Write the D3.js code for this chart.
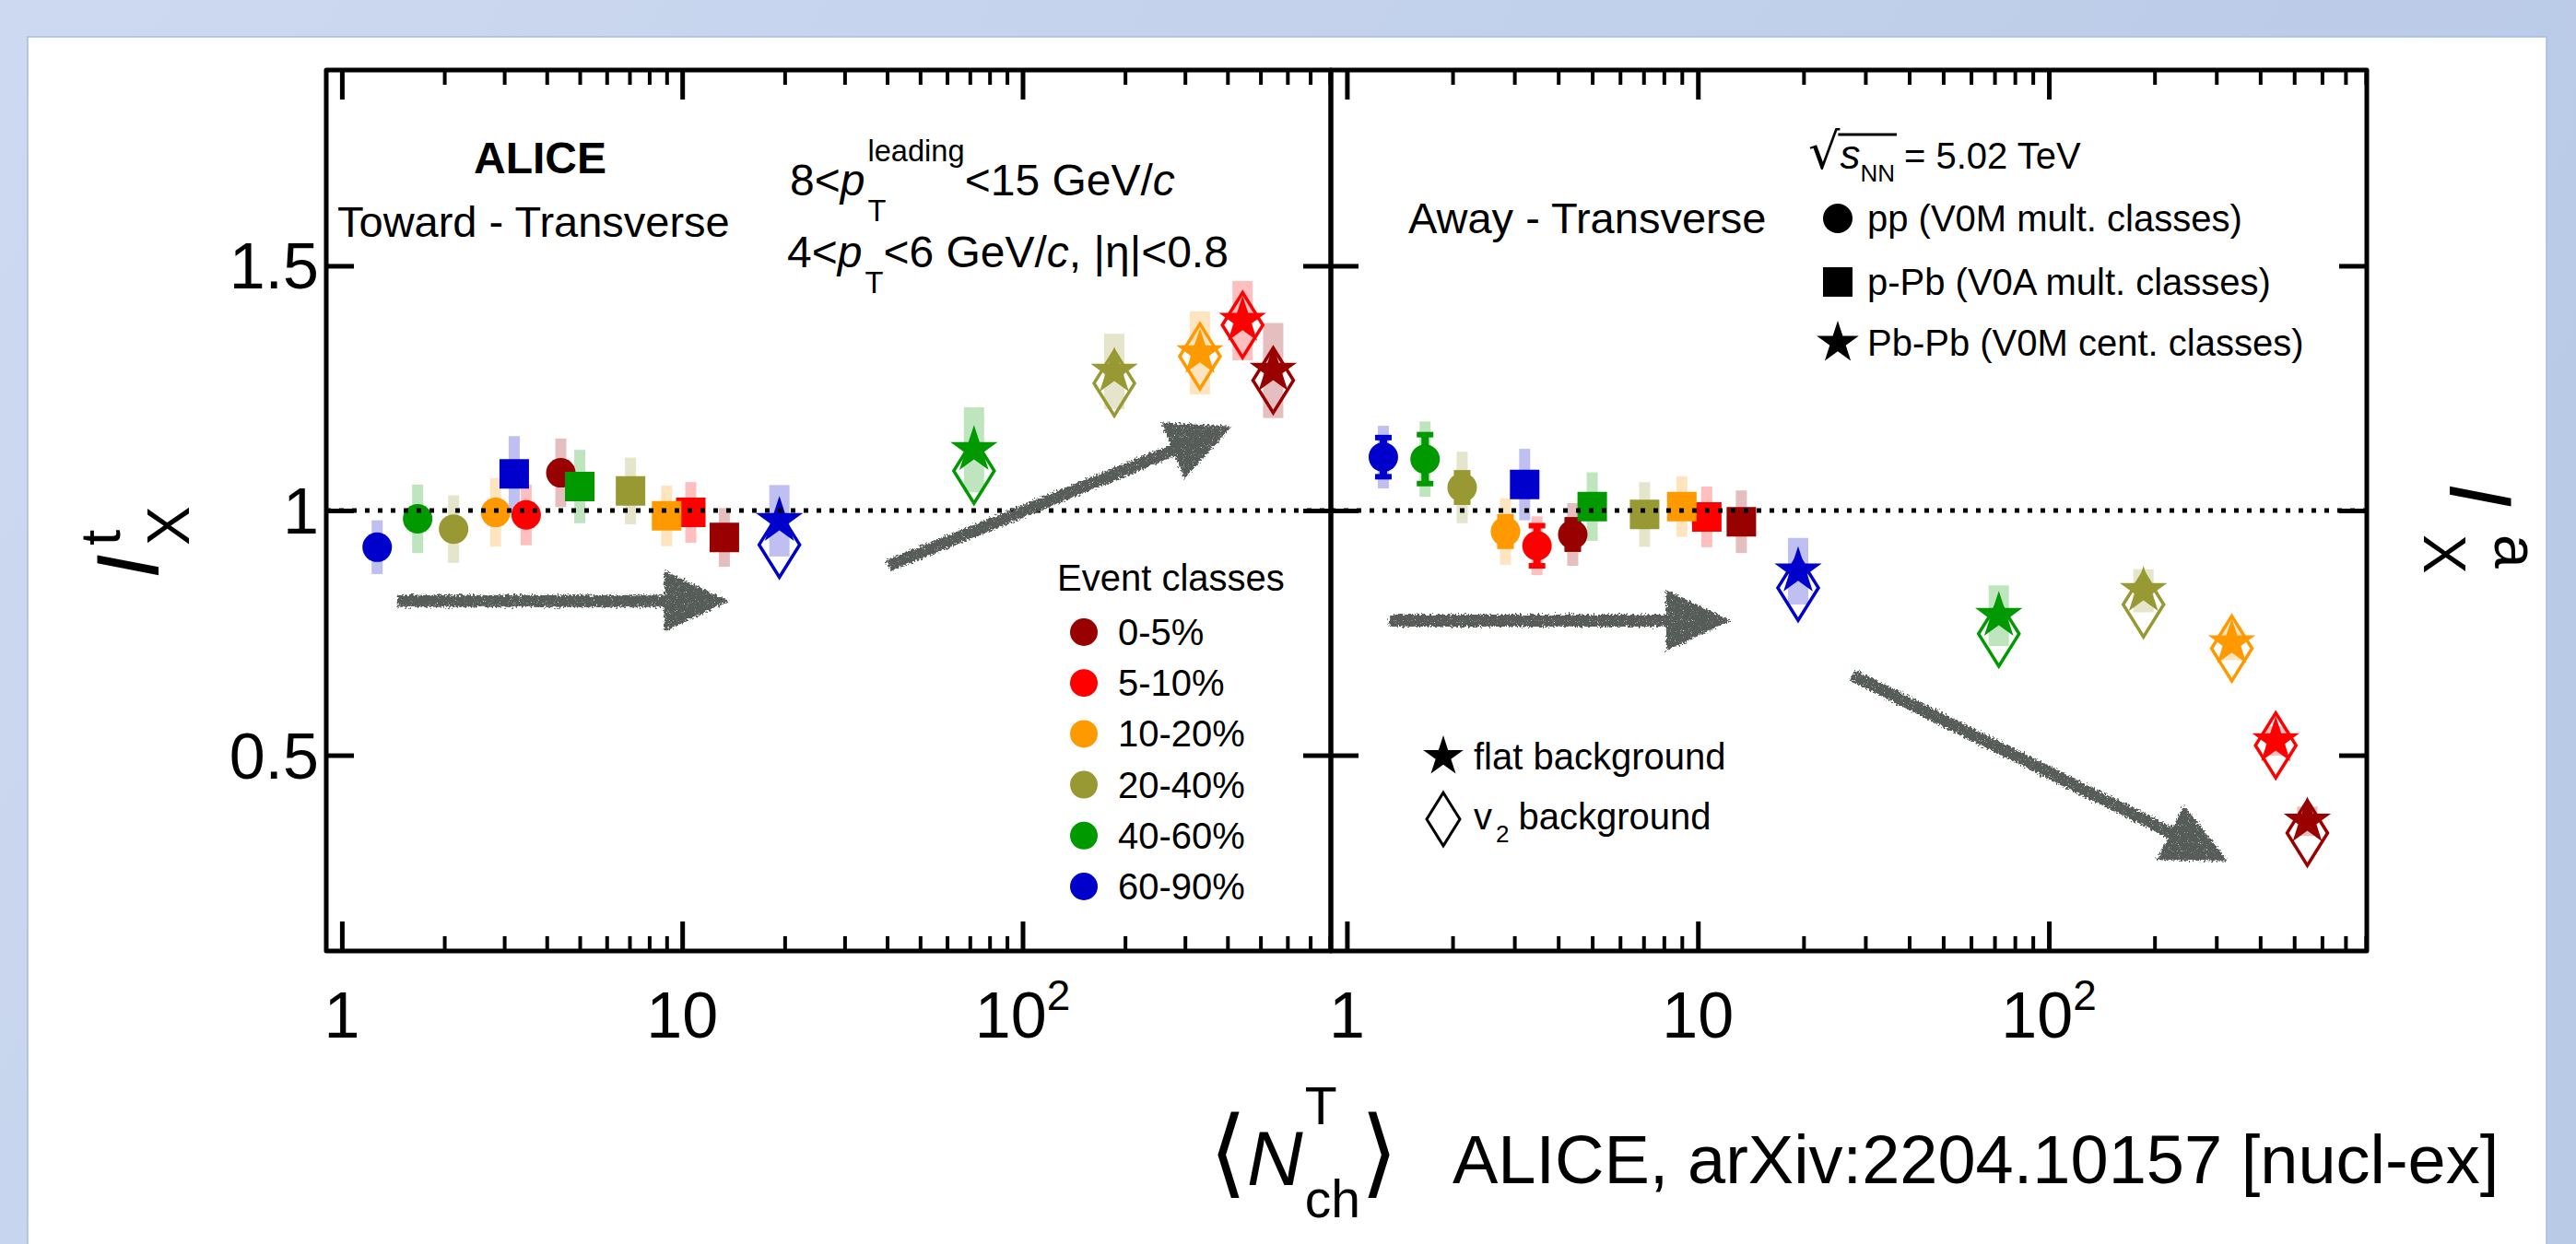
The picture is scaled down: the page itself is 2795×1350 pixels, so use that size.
<!DOCTYPE html>
<head>
<meta charset="utf-8">
<script src="https://d3js.org/d3.v7.min.js"></script>
<style>
  body { margin: 0; }
  text { font-family: "Liberation Sans", Arial, Helvetica, sans-serif; fill: #000; white-space: pre; }
</style>
</head>
<body>
<div id="container"></div>
<script>
// ---- data ----
var eventClasses = ["0-5%", "5-10%", "10-20%", "20-40%", "40-60%", "60-90%"];
var classColors  = ["#990000", "#ff0000", "#ff9900", "#999933", "#009900", "#0000cc"];

// <N_ch^T> per event class
var nchPP   = [4.40, 3.48, 2.83, 2.13, 1.67, 1.27];
var nchPPb  = [13.3, 10.6, 9.0, 7.05, 5.0, 3.21];
var nchPbPb = [545, 443, 332, 186, 72, 19.3];

// Toward - Transverse (I^t_X)
var towardPP       = [1.077, 0.991, 0.996, 0.962, 0.983, 0.925];
var towardPPStat   = [0.020, 0.020, 0.020, 0.020, 0.020, 0.020];
var towardPPSys    = [0.070, 0.062, 0.070, 0.069, 0.070, 0.055];
var towardPPb      = [0.945, 0.996, 0.989, 1.040, 1.049, 1.075];
var towardPPbSys   = [0.060, 0.062, 0.062, 0.068, 0.075, 0.077];
var towardPbPb     = [1.286, 1.388, 1.322, 1.284, 1.124, 0.979];
var towardPbPbV2   = [1.266, 1.379, 1.315, 1.260, 1.081, 0.930];
var towardPbPbSys  = [0.097, 0.081, 0.085, 0.077, 0.087, 0.073];

// Away - Transverse (I^a_X)
var awayPP       = [0.951, 0.928, 0.957, 1.047, 1.105, 1.109];
var awayPPStat   = [0.030, 0.041, 0.030, 0.030, 0.050, 0.040];
var awayPPSys    = [0.064, 0.060, 0.068, 0.073, 0.077, 0.064];
var awayPPb      = [0.977, 0.987, 1.008, 0.992, 1.008, 1.053];
var awayPPbSys   = [0.064, 0.062, 0.062, 0.066, 0.070, 0.073];
var awayPbPb     = [0.365, 0.529, 0.729, 0.836, 0.785, 0.876];
var awayPbPbV2   = [0.341, 0.520, 0.718, 0.808, 0.748, 0.842];
var awayPbPbSys  = [0.030, 0.030, 0.035, 0.044, 0.062, 0.068];

var xMajorTicks = [1, 10, 100];
var xTickLabels = ["1", "10", "10|2"];
var yTicks = [0.5, 1, 1.5];
var yTickLabels = ["0.5", "1", "1.5"];

// hand-drawn trend arrows, in data coordinates
var arrows = [
  {panel: 0, from: [1.46, 0.815], to: [13.7, 0.815]},
  {panel: 0, from: [40.3, 0.887], to: [414, 1.172]},
  {panel: 1, from: [1.32, 0.775], to: [12.4, 0.775]},
  {panel: 1, from: [27.5, 0.664], to: [324, 0.283]}
];

// ---- layout ----
var W = 2795, H = 1350;
var yTop = 76, yBot = 1032;
var panels = [
  {x0: 354, x1: 1444},
  {x0: 1444, x1: 2568}
];
panels.forEach(function (p) {
  p.x = d3.scaleLog().domain([0.9, 805]).range([p.x0, p.x1]);
});
var y = d3.scaleLinear().domain([0.1, 1.9]).range([yBot, yTop]);

var svg = d3.select("#container").append("svg")
  .attr("width", W).attr("height", H);

var defs = svg.append("defs");
var grad = defs.append("linearGradient").attr("id", "bg")
  .attr("x1", 0).attr("x2", 1).attr("y1", 0).attr("y2", 0.3);
grad.append("stop").attr("offset", 0).attr("stop-color", "#cdd9f0");
grad.append("stop").attr("offset", 1).attr("stop-color", "#b9cae7");

// rough, speckled look for the hand-drawn arrows
var rough = defs.append("filter").attr("id", "rough")
  .attr("x", "-10%").attr("y", "-60%").attr("width", "120%").attr("height", "220%");
rough.append("feTurbulence").attr("type", "fractalNoise")
  .attr("baseFrequency", 0.45).attr("numOctaves", 2).attr("result", "noise");
rough.append("feDisplacementMap").attr("in", "SourceGraphic").attr("in2", "noise")
  .attr("scale", 8).attr("xChannelSelector", "R").attr("yChannelSelector", "G").attr("result", "disp");
rough.append("feTurbulence").attr("type", "fractalNoise")
  .attr("baseFrequency", 1.1).attr("numOctaves", 1).attr("seed", 7).attr("result", "grain");
rough.append("feColorMatrix").attr("in", "grain").attr("type", "matrix")
  .attr("values", "0 0 0 0 0  0 0 0 0 0  0 0 0 0 0  -5 0 0 0 4.2").attr("result", "mask");
rough.append("feComposite").attr("in", "disp").attr("in2", "mask").attr("operator", "in");

svg.append("rect").attr("width", W).attr("height", H).attr("fill", "url(#bg)");
svg.append("rect").attr("x", 30).attr("y", 40).attr("width", 2733).attr("height", 1330)
  .attr("fill", "#fff").attr("stroke", "#a8bcdf").attr("stroke-width", 1.5);

// ---- symbols ----
var diamondTall = {
  draw: function (ctx, size) {
    var w = Math.sqrt(size) * 0.5, h = w * 1.6;
    ctx.moveTo(0, -h); ctx.lineTo(w, 0); ctx.lineTo(0, h); ctx.lineTo(-w, 0); ctx.closePath();
  }
};
var symCircle = d3.symbol().type(d3.symbolCircle).size(Math.PI * 16 * 16);
var symSquare = d3.symbol().type(d3.symbolSquare).size(32 * 32);
var symStar   = d3.symbol().type(d3.symbolStar).size(27 * 27 / 0.8908);
var symDiam   = d3.symbol().type(diamondTall).size(44 * 44);

function series(panel, nch, vals, stat, sys, kind, v2) {
  return vals.map(function (v, i) {
    return {panel: panel, x: nch[i], y: v, stat: stat ? stat[i] : 0, sys: sys[i],
            color: classColors[i], kind: kind, v2: v2 ? v2[i] : null};
  });
}
var allPoints = [].concat(
  series(0, nchPP, towardPP, towardPPStat, towardPPSys, "pp"),
  series(0, nchPPb, towardPPb, null, towardPPbSys, "ppb"),
  series(0, nchPbPb, towardPbPb, null, towardPbPbSys, "pbpb", towardPbPbV2),
  series(1, nchPP, awayPP, awayPPStat, awayPPSys, "pp"),
  series(1, nchPPb, awayPPb, null, awayPPbSys, "ppb"),
  series(1, nchPbPb, awayPbPb, null, awayPbPbSys, "pbpb", awayPbPbV2)
);
function px(d) { return panels[d.panel].x(d.x); }

// systematic boxes
var plot = svg.append("g");
plot.selectAll("rect.sys").data(allPoints).enter().append("rect")
  .attr("class", "sys")
  .attr("x", function (d) { return px(d) - (d.kind === "pbpb" ? 11 : 6); })
  .attr("width", function (d) { return d.kind === "pbpb" ? 22 : 12; })
  .attr("y", function (d) { return y(d.y + d.sys); })
  .attr("height", function (d) { return y(d.y - d.sys) - y(d.y + d.sys); })
  .attr("fill", function (d) { return d.color; })
  .attr("fill-opacity", 0.25);

// statistical bars
var statPts = allPoints.filter(function (d) { return d.stat > 0; });
plot.selectAll("line.stat").data(statPts).enter().append("line")
  .attr("x1", px).attr("x2", px)
  .attr("y1", function (d) { return y(d.y + d.stat); })
  .attr("y2", function (d) { return y(d.y - d.stat); })
  .attr("stroke", function (d) { return d.color; }).attr("stroke-width", 8);
[1, -1].forEach(function (s) {
  plot.selectAll(null).data(statPts).enter().append("rect")
    .attr("x", function (d) { return px(d) - 9; }).attr("width", 18)
    .attr("y", function (d) { return y(d.y + s * d.stat) - 3; }).attr("height", 6)
    .attr("fill", function (d) { return d.color; });
});

// v2-background diamonds
plot.selectAll("path.v2").data(allPoints.filter(function (d) { return d.v2 !== null; }))
  .enter().append("path")
  .attr("d", symDiam)
  .attr("transform", function (d) { return "translate(" + px(d) + "," + y(d.v2) + ")"; })
  .attr("fill", "none").attr("stroke", function (d) { return d.color; }).attr("stroke-width", 3.5);

// markers
plot.selectAll("path.mk").data(allPoints).enter().append("path")
  .attr("d", function (d) { return d.kind === "pp" ? symCircle() : d.kind === "ppb" ? symSquare() : symStar(); })
  .attr("transform", function (d) { return "translate(" + px(d) + "," + y(d.y) + ")"; })
  .attr("fill", function (d) { return d.color; });

// dotted unity line
panels.forEach(function (p) {
  svg.append("line").attr("x1", p.x0).attr("x2", p.x1).attr("y1", y(1)).attr("y2", y(1))
    .attr("stroke", "#000").attr("stroke-width", 5).attr("stroke-dasharray", "5,9");
});

// ---- frames and axes ----
var xMinorTicks = [];
[1, 10, 100].forEach(function (dec) {
  for (var k = 2; k <= 9; k++) if (k * dec < 805) xMinorTicks.push(k * dec);
});
panels.forEach(function (p, pi) {
  var axes = svg.append("g");
  function add(axis, tx, ty, w) {
    var g = axes.append("g").attr("transform", "translate(" + tx + "," + ty + ")").call(axis);
    g.select(".domain").remove();
    g.selectAll("text").remove();
    g.selectAll("line").attr("stroke", "#000").attr("stroke-width", w);
  }
  add(d3.axisBottom(p.x).tickValues(xMajorTicks).tickSize(-32), 0, yBot, 5);
  add(d3.axisBottom(p.x).tickValues(xMinorTicks).tickSize(-16), 0, yBot, 4);
  add(d3.axisTop(p.x).tickValues(xMajorTicks).tickSize(-32), 0, yTop, 5);
  add(d3.axisTop(p.x).tickValues(xMinorTicks).tickSize(-16), 0, yTop, 4);
  add(d3.axisLeft(y).tickValues(yTicks).tickSize(-30), p.x0, 0, 5);
  add(d3.axisRight(y).tickValues(yTicks).tickSize(-30), p.x1, 0, 5);

  axes.append("rect").attr("x", p.x0).attr("y", yTop)
    .attr("width", p.x1 - p.x0).attr("height", yBot - yTop)
    .attr("fill", "none").attr("stroke", "#000").attr("stroke-width", 5)
    .attr("stroke-linejoin", "round");

  xMajorTicks.forEach(function (v, i) {
    var parts = xTickLabels[i].split("|");
    var t = axes.append("text").attr("x", p.x(v)).attr("y", 1126)
      .attr("text-anchor", "middle").attr("font-size", 70).text(parts[0]);
    if (parts[1]) t.append("tspan").attr("dy", -30).attr("font-size", 46).text(parts[1]);
  });
});
yTicks.forEach(function (v, i) {
  svg.append("text").attr("x", panels[0].x0 - 8).attr("y", y(v) + 25)
    .attr("text-anchor", "end").attr("font-size", 70).text(yTickLabels[i]);
});

// ---- rich text helper (sequential pieces, sub/sup stacking) ----
function rich(g, x, yb, size, parts) {
  var grp = g.append("g"), cx = x, pend = 0, out = [];
  parts.forEach(function (p) {
    var fs = size * (p.scale || 1);
    var t = grp.append("text").attr("x", cx + (p.dx || 0)).attr("y", yb + (p.shift || 0) * size)
      .attr("font-size", fs).attr("xml:space", "preserve").text(p.t);
    if (p.it) t.attr("font-style", "italic");
    if (p.bold) t.attr("font-weight", "bold");
    if (p.family) t.style("font-family", p.family);
    var w = t.node().getComputedTextLength() + (p.dx || 0);
    out.push({x: cx + (p.dx || 0), w: w});
    if (p.stack) { pend = w; }
    else { cx += Math.max(w, pend) + (p.gap || 0); pend = 0; }
  });
  return out;
}

var txt = svg.append("g");
txt.append("text").attr("x", 586).attr("y", 188).attr("text-anchor", "middle")
  .attr("font-size", 48).attr("font-weight", "bold").text("ALICE");
txt.append("text").attr("x", 366).attr("y", 257).attr("font-size", 47).text("Toward - Transverse");
rich(txt, 857, 212, 48, [
  {t: "8<"}, {t: "p", it: true},
  {t: "leading", scale: 0.68, shift: -0.77, stack: true, dx: 3},
  {t: "T", scale: 0.68, shift: 0.58, dx: 3},
  {t: "<15 GeV/"}, {t: "c", it: true}
]);
rich(txt, 854, 290, 48, [
  {t: "4<"}, {t: "p", it: true},
  {t: "T", scale: 0.68, shift: 0.58, dx: 3},
  {t: "<6 GeV/"}, {t: "c", it: true}, {t: ", |η|<0.8"}
]);

// right panel header
txt.append("text").attr("x", 1528).attr("y", 253).attr("font-size", 47).text("Away - Transverse");
var sq = rich(txt, 1962, 183, 40, [
  {t: "√", scale: 1.35, family: "DejaVu Sans"},
  {t: "s", it: true, scale: 1.1},
  {t: "NN", scale: 0.65, shift: 0.35, gap: 10},
  {t: "= 5.02 TeV"}
]);
txt.append("line").attr("x1", sq[1].x - 2).attr("x2", sq[2].x + sq[2].w + 2)
  .attr("y1", 146).attr("y2", 146).attr("stroke", "#000").attr("stroke-width", 3);

var sysLegend = [
  {label: "pp (V0M mult. classes)", sym: symCircle, yy: 237},
  {label: "p-Pb (V0A mult. classes)", sym: symSquare, yy: 306},
  {label: "Pb-Pb (V0M cent. classes)", sym: d3.symbol().type(d3.symbolStar).size(24 * 24 / 0.8908), yy: 372}
];
sysLegend.forEach(function (l) {
  txt.append("path").attr("d", l.sym()).attr("transform", "translate(1994," + l.yy + ")").attr("fill", "#000");
  txt.append("text").attr("x", 2026).attr("y", l.yy + 14).attr("font-size", 40).text(l.label);
});

// event class legend
txt.append("text").attr("x", 1147).attr("y", 641).attr("font-size", 40).text("Event classes");
eventClasses.forEach(function (c, i) {
  var yy = 686 + i * 55.2;
  txt.append("circle").attr("cx", 1176).attr("cy", yy).attr("r", 15).attr("fill", classColors[i]);
  txt.append("text").attr("x", 1213).attr("y", yy + 14).attr("font-size", 40).text(c);
});

// background method legend
txt.append("path").attr("d", d3.symbol().type(d3.symbolStar).size(23 * 23 / 0.8908)())
  .attr("transform", "translate(1566,821)").attr("fill", "#000");
txt.append("text").attr("x", 1599).attr("y", 835).attr("font-size", 40).text("flat background");
txt.append("path").attr("d", d3.symbol().type(diamondTall).size(36 * 36)())
  .attr("transform", "translate(1566,889)").attr("fill", "none").attr("stroke", "#000").attr("stroke-width", 3);
rich(txt, 1599, 900, 40, [{t: "v"}, {t: "2", scale: 0.65, shift: 0.35, dx: 4, gap: 10}, {t: "background"}]);

// y titles
var lt = txt.append("g").attr("transform", "translate(172,628) rotate(-90)");
lt.append("text").attr("x", 0).attr("y", 0).attr("font-size", 96).attr("font-style", "italic").text("I");
lt.append("text").attr("x", 36).attr("y", -42).attr("font-size", 62).text("t");
lt.append("text").attr("x", 36).attr("y", 33).attr("font-size", 64).text("X");

var rt = txt.append("g").attr("transform", "translate(2658,524) rotate(90)");
rt.append("text").attr("x", 0).attr("y", 0).attr("font-size", 96).attr("font-style", "italic").text("I");
rt.append("text").attr("x", 56).attr("y", -49).attr("font-size", 66).text("a");
rt.append("text").attr("x", 56).attr("y", 28).attr("font-size", 64).text("X");

// x title and reference
rich(txt, 1312, 1286, 84, [
  {t: "⟨", scale: 1.25, family: "DejaVu Sans"},
  {t: "N", it: true},
  {t: "T", scale: 0.68, shift: -0.78, stack: true, dx: 2},
  {t: "ch", scale: 0.68, shift: 0.42, dx: 2},
  {t: "⟩", scale: 1.25, family: "DejaVu Sans"}
]);
txt.append("text").attr("x", 1576).attr("y", 1284).attr("font-size", 74)
  .text("ALICE, arXiv:2204.10157 [nucl-ex]");

// ---- trend arrows ----
var arrowLayer = svg.append("g");
arrows.forEach(function (a) {
  var p = panels[a.panel];
  var x1 = p.x(a.from[0]), y1 = y(a.from[1]), x2 = p.x(a.to[0]), y2 = y(a.to[1]);
  var ang = Math.atan2(y2 - y1, x2 - x1), hl = 70, hw = 33;
  var ca = Math.cos(ang), sa = Math.sin(ang);
  var bx = x2 - hl * ca, by = y2 - hl * sa;
  var g = arrowLayer.append("g").attr("filter", "url(#rough)");
  g.append("line").attr("x1", x1).attr("y1", y1).attr("x2", bx + 12 * ca).attr("y2", by + 12 * sa)
    .attr("stroke", "#565b59").attr("stroke-width", 13);
  g.append("path")
    .attr("d", d3.line()([[x2, y2], [bx - sa * hw, by + ca * hw], [bx + sa * hw, by - ca * hw]]) + "Z")
    .attr("fill", "#565b59");
});
</script>
</body>
